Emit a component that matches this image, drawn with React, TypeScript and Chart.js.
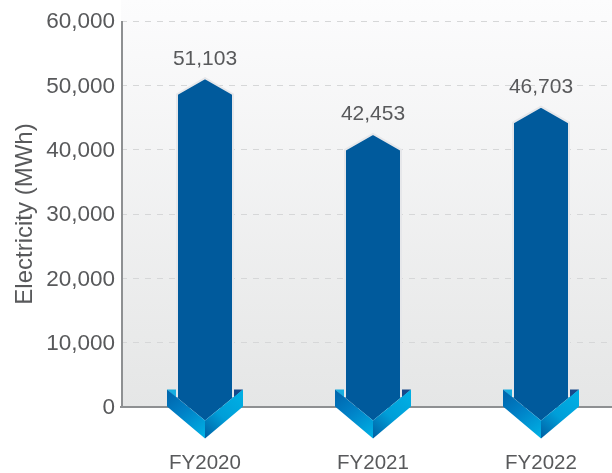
import React, { useEffect, useRef } from "react";
import { Chart, registerables } from "chart.js";

Chart.register(...registerables);

const categories = ["FY2020", "FY2021", "FY2022"];
const electricity = [51103, 42453, 46703];
const yTicks = [0, 10000, 20000, 30000, 40000, 50000, 60000];
const FONT = '"Liberation Sans", Arial, sans-serif';
const TEXT = "#58595b";
const AXIS = "#8e9092";

function drawArrow(this: any, ctx: CanvasRenderingContext2D) {
  const { x, y, base, width } = this.getProps(["x", "y", "base", "width"], true);
  const half = width / 2;
  const wing = half + 10;
  const top = base - 17;
  const wingBottom = base;
  const notch = base + 14;
  const point = base + 32;
  const shoulder = y + 16;
  ctx.save();
  // back corners of the chevron
  ctx.fillStyle = "#19aee0";
  ctx.beginPath();
  ctx.moveTo(x - wing, top);
  ctx.lineTo(x - half, top);
  ctx.lineTo(x - half, top + 9);
  ctx.closePath();
  ctx.fill();
  ctx.fillStyle = "#17498a";
  ctx.beginPath();
  ctx.moveTo(x + wing, top);
  ctx.lineTo(x + half, top);
  ctx.lineTo(x + half, top + 9);
  ctx.closePath();
  ctx.fill();
  // shaft with arrow tip
  ctx.beginPath();
  ctx.moveTo(x, y);
  ctx.lineTo(x + half, shoulder);
  ctx.lineTo(x + half, top + 8);
  ctx.lineTo(x, notch);
  ctx.lineTo(x - half, top + 8);
  ctx.lineTo(x - half, shoulder);
  ctx.closePath();
  ctx.fillStyle = this.options.backgroundColor;
  ctx.fill();
  ctx.beginPath();
  ctx.moveTo(x - half, top + 8);
  ctx.lineTo(x - half, shoulder);
  ctx.lineTo(x, y);
  ctx.lineTo(x + half, shoulder);
  ctx.lineTo(x + half, top + 8);
  ctx.strokeStyle = "#e6e7ea";
  ctx.lineWidth = 2;
  ctx.stroke();
  // left face
  let g = ctx.createLinearGradient(x - wing, top + 8, x - 6, point);
  g.addColorStop(0, "#0069b0");
  g.addColorStop(0.4, "#0080c6");
  g.addColorStop(1, "#00aee3");
  ctx.fillStyle = g;
  ctx.beginPath();
  ctx.moveTo(x - wing, top);
  ctx.lineTo(x, notch);
  ctx.lineTo(x, point);
  ctx.lineTo(x - wing, wingBottom);
  ctx.closePath();
  ctx.fill();
  // right face
  g = ctx.createLinearGradient(x + wing, top + 8, x, point);
  g.addColorStop(0, "#00aee3");
  g.addColorStop(0.5, "#009ed8");
  g.addColorStop(1, "#005ea2");
  ctx.fillStyle = g;
  ctx.beginPath();
  ctx.moveTo(x + wing, top);
  ctx.lineTo(x, notch);
  ctx.lineTo(x, point);
  ctx.lineTo(x + wing, wingBottom);
  ctx.closePath();
  ctx.fill();
  ctx.restore();
}

const arrowPlugin = {
  id: "arrowBars",
  beforeDraw(chart: any) {
    const { ctx, chartArea } = chart;
    const g = ctx.createLinearGradient(0, 0, 0, chartArea.bottom);
    g.addColorStop(0, "#fcfcfd");
    g.addColorStop(1, "#e5e6e6");
    ctx.save();
    ctx.fillStyle = g;
    ctx.fillRect(chartArea.left, 0, chartArea.right - chartArea.left, chartArea.bottom);
    ctx.restore();
    chart.getDatasetMeta(0).data.forEach((el: any) => {
      el.draw = drawArrow;
    });
  },
  beforeDatasetsDraw(chart: any) {
    const { ctx, chartArea } = chart;
    ctx.save();
    ctx.strokeStyle = AXIS;
    ctx.lineWidth = 2;
    ctx.beginPath();
    ctx.moveTo(chartArea.left + 1, chartArea.top);
    ctx.lineTo(chartArea.left + 1, chartArea.bottom + 1);
    ctx.stroke();
    ctx.restore();
  },
  afterDatasetsDraw(chart: any) {
    const { ctx } = chart;
    ctx.save();
    ctx.font = `21px ${FONT}`;
    ctx.fillStyle = TEXT;
    ctx.textAlign = "center";
    ctx.textBaseline = "middle";
    chart.getDatasetMeta(0).data.forEach((el: any, i: number) => {
      ctx.fillText(electricity[i].toLocaleString("en-US"), el.x, el.y - 19.5);
    });
    ctx.restore();
  },
};

export default function App() {
  const ref = useRef<HTMLCanvasElement>(null);
  useEffect(() => {
    const chart = new Chart(ref.current!, {
      type: "bar",
      data: {
        labels: categories,
        datasets: [
          {
            label: "Electricity (MWh)",
            data: electricity,
            backgroundColor: "#005a9c",
            barThickness: 56,
            clip: false,
          } as any,
        ],
      },
      plugins: [arrowPlugin],
      options: {
        animation: false,
        responsive: false,
        layout: { padding: { top: 21, left: 0, right: 0, bottom: 0 } },
        plugins: { legend: { display: false }, tooltip: { enabled: false } },
        scales: {
          x: {
            grid: { display: false, drawTicks: false },
            border: { color: AXIS, width: 2 },
            ticks: { color: TEXT, font: { family: FONT, size: 20.5 }, padding: 44, maxRotation: 0 },
            afterFit: (s: any) => {
              s.height = 473 - 407;
            },
          },
          y: {
            min: 0,
            max: 60000,
            afterBuildTicks: (s: any) => {
              s.ticks = yTicks.map((value) => ({ value }));
            },
            grid: { color: "#d6d7d8", drawTicks: false, lineWidth: 1 },
            border: { display: false, dash: [6, 6] } as any,
            ticks: {
              color: TEXT,
              font: { family: FONT, size: 22.5 },
              padding: 6,
              labelOffset: 1,
              callback: (v: any) => Number(v).toLocaleString("en-US"),
            },
            title: {
              display: true,
              text: "Electricity (MWh)",
              color: TEXT,
              font: { family: FONT, size: 24, weight: "normal" },
              padding: { top: 11, bottom: 0 },
            },
            afterFit: (s: any) => {
              s.width = 121;
            },
          },
        },
      },
    } as any);
    return () => chart.destroy();
  }, []);
  return (
    <div style={{ position: "absolute", left: 0, top: 0, width: 612, height: 473, overflow: "hidden", background: "#fff" }}>
      <canvas ref={ref} width={625} height={473} style={{ display: "block" }} />
    </div>
  );
}
